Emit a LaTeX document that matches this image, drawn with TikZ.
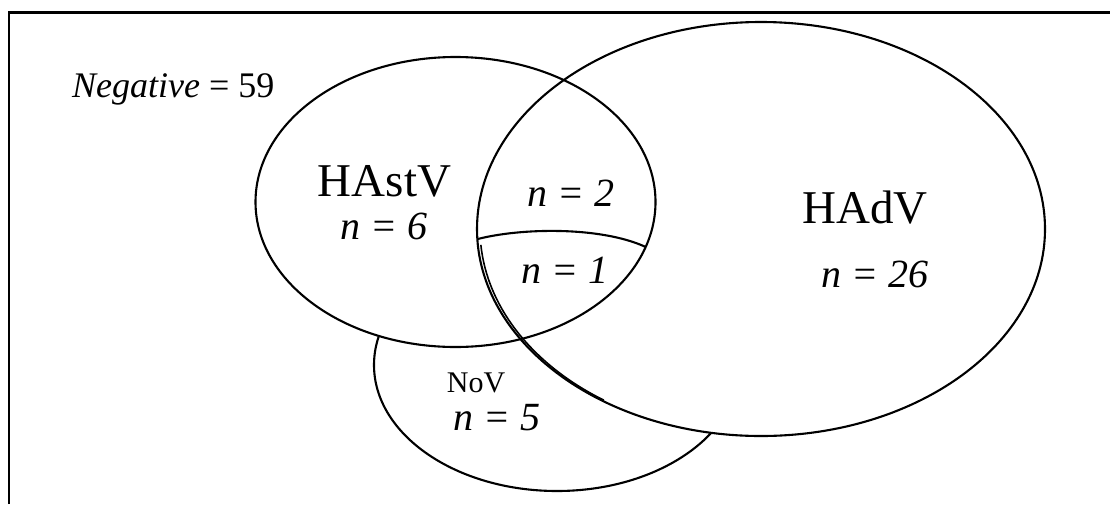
\documentclass[tikz,border=0pt]{standalone}
\usepackage{fontspec}
\setmainfont{Liberation Serif}
\usetikzlibrary{calc}
\begin{document}
\begin{tikzpicture}[x=1pt,y=-1pt,
  venn/.style={line width=2.1pt},
  lbl/.style={inner sep=0pt, anchor=base},
  framebar/.style={line width=2.8pt},
  big/.style={font=\fontsize{47}{50}\selectfont},
  cnt/.style={font=\fontsize{40}{44}\selectfont\itshape}]
\useasboundingbox (0,0) rectangle (1110,504);
\fill[white] (0,0) rectangle (1110,504);
\coordinate (nov) at (557,365);
\coordinate (hastv) at (455.5,202);
\coordinate (hadv) at (761,229);
% frame (top and left edges only)
\draw[framebar] (9,504) -- (9,12.5) -- (1110,12.5);
% NoV behind the others
\draw[venn, fill=white] (nov) ellipse [x radius=183pt, y radius=126pt];
\fill[white] (hastv) ellipse [x radius=200pt, y radius=145pt];
\fill[white] (hadv) ellipse [x radius=284pt, y radius=207pt];
\draw[venn] (hastv) ellipse [x radius=200pt, y radius=145pt];
\draw[venn] (hadv) ellipse [x radius=284pt, y radius=207pt];
% doubled edge along lower-left of HAdV
\draw[line width=1.6pt, shift={(hadv)}] (184.4:281pt and 206.5pt) arc[start angle=184.4, end angle=236, x radius=281pt, y radius=206.5pt];
% divider in the lens
\coordinate (divl) at ($(hadv)+(182.8:284pt and 207pt)$);
\coordinate (divr) at ($(hastv)+(-18.06:200pt and 145pt)$);
\draw[venn] (divl) .. controls (520,228) and (600,226) .. (divr);
% labels
\node[lbl, anchor=base west, font=\fontsize{36}{40}\selectfont] (neg) at (72,97.7) {\textit{Negative} = 59};
\node[lbl, big] (hastvl) at (384.5,196) {HAstV};
\node[lbl, cnt] (n6) at (384,239) {n = 6};
\node[lbl, cnt] (n2) at (571,206) {n = 2};
\node[lbl, cnt] (n1) at (565,283) {n = 1};
\node[lbl, big] (hadvl) at (865,223) {HAdV};
\node[lbl, cnt] (n26) at (875,287) {n = 26};
\node[lbl, font=\fontsize{30}{34}\selectfont] (novl) at (476,392) {NoV};
\node[lbl, cnt] (n5) at (497,430) {n = 5};
\end{tikzpicture}
\end{document}
